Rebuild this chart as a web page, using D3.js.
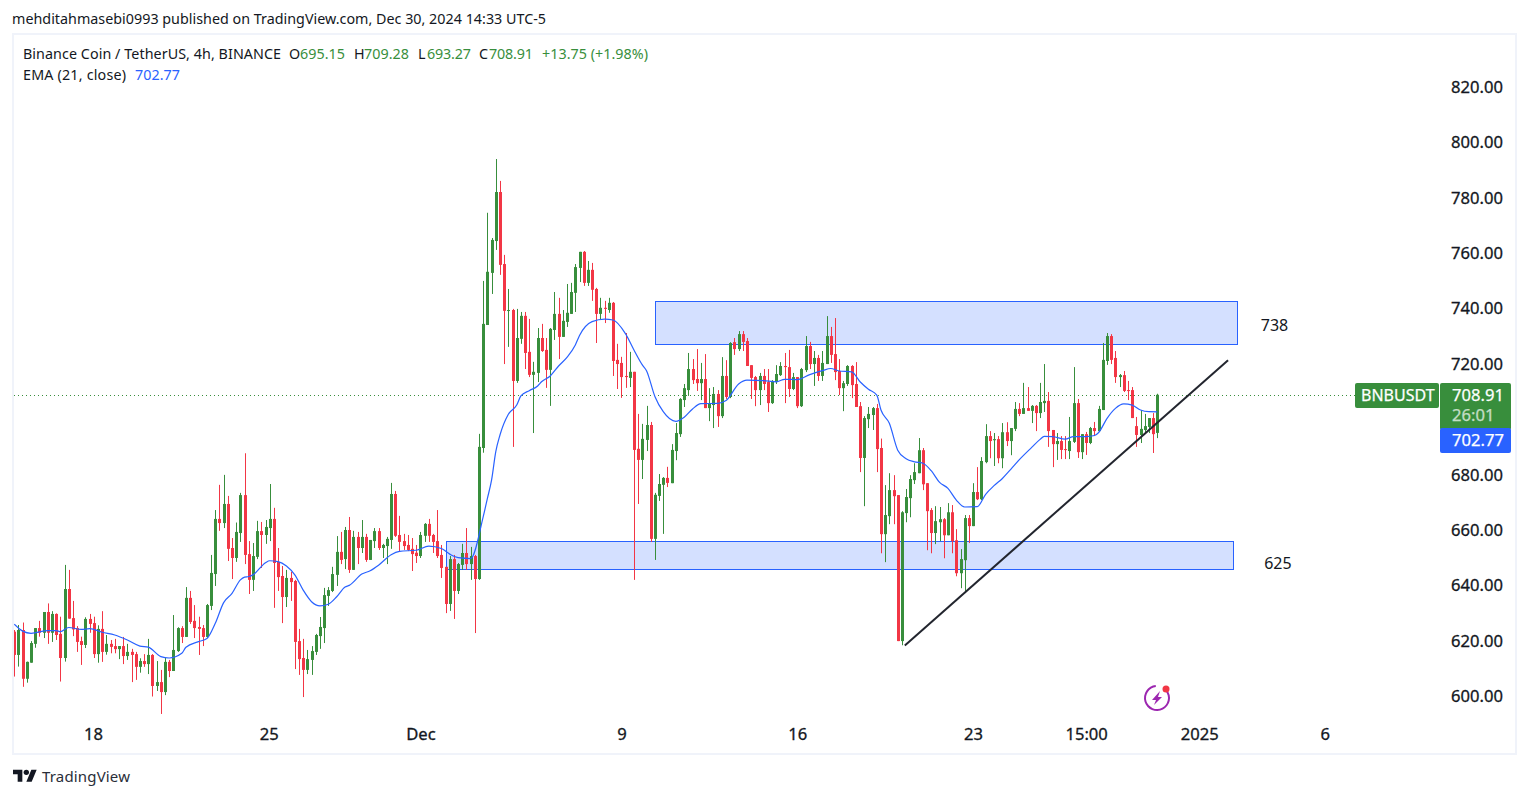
<!DOCTYPE html>
<html>
<head>
<meta charset="utf-8">
<title>BNBUSDT 4h</title>
<script src="https://cdnjs.cloudflare.com/ajax/libs/d3/7.8.5/d3.min.js"></script>
<style>
    body { margin: 0; background: #ffffff; }
    svg { display: block; }
    text { font-family: "Noto Sans", sans-serif; fill: #131722; }
</style>
</head>
<body>
<svg id="chart" width="1529" height="798"></svg>
<script>
//4h candles, oldest first
const opens = [
    623.4,615.0,624.0,606.4,612.2,619.0,624.7,623.0,630.5,623.0,
    629.8,622.6,613.9,638.8,628.3,624.7,620.0,618.6,628.0,626.5,
    615.3,624.4,616.1,619.0,618.2,617.1,618.2,614.6,616.1,615.3,
    610.7,612.8,611.7,615.0,603.8,605.2,601.6,612.5,609.2,616.4,
    624.7,621.5,635.6,627.3,625.1,624.7,621.5,632.7,644.2,664.1,
    662.6,669.5,653.6,650.0,659.0,672.7,651.4,642.1,650.4,659.7,
    658.3,660.8,664.1,648.6,643.5,635.9,642.8,641.7,620.0,613.9,
    609.6,613.2,616.1,621.8,624.7,636.3,638.1,643.9,652.2,649.6,
    660.1,645.7,657.6,653.6,657.6,649.3,656.1,659.7,653.6,654.3,
    656.5,673.1,658.3,656.1,654.7,653.3,651.9,650.7,658.0,662.3,
    658.3,656.1,651.1,646.8,633.4,649.6,638.1,647.5,651.8,647.8,
    650.7,642.4,689.7,734.1,752.9,764.4,782.1,756.1,739.2,739.5,
    713.9,729.1,737.4,724.4,716.1,716.8,729.4,725.1,717.9,732.3,
    738.1,729.8,735.2,738.1,745.7,754.7,760.5,749.3,754.0,747.1,
    738.1,740.3,739.5,742.1,721.5,720.4,715.7,715.0,717.2,689.4,
    685.4,692.6,698.0,656.9,672.4,676.4,678.9,677.0,688.6,694.7,
    707.0,710.6,718.2,714.6,713.1,714.6,704.1,705.2,709.2,701.2,
    715.7,708.1,727.9,725.4,730.8,728.3,719.6,715.3,710.6,715.7,
    713.5,705.9,713.5,716.0,719.3,718.9,711.0,715.3,704.8,717.8,
    726.5,720.0,722.2,715.7,720.0,730.1,723.6,717.5,711.3,712.8,
    719.3,712.8,704.8,686.1,700.1,701.6,704.1,689.7,658.6,665.1,
    674.5,672.7,620.0,666.2,671.6,678.1,680.6,688.9,677.0,667.3,
    659.0,662.9,664.0,658.2,666.5,656.4,644.5,649.2,664.4,661.5,
    673.8,671.2,684.6,694.0,692.5,692.9,686.0,695.4,692.2,696.6,
    703.8,702.0,704.1,703.1,704.9,702.3,705.9,706.7,696.2,691.1,
    692.2,689.3,688.6,691.9,705.9,688.2,694.7,691.5,696.9,695.8,
    703.4,721.1,730.1,722.2,715.3,716.0,710.6,710.6,697.6,694.4,
    696.2,697.3,700.5,695.15
];
const highs = [
    624.0,625.8,626.7,612.6,620.0,624.7,627.3,630.5,633.6,630.8,
    630.0,628.8,647.5,645.7,634.5,625.4,621.6,628.6,629.8,628.8,
    625.7,630.8,622.2,620.4,620.8,618.2,621.5,619.0,617.2,616.1,
    613.8,615.3,620.8,615.3,612.8,609.6,613.9,613.2,629.4,625.0,
    625.4,639.5,638.1,633.0,628.8,625.8,633.4,651.1,667.3,676.4,
    680.0,672.4,657.2,662.8,673.5,687.8,656.1,655.4,663.4,663.0,
    663.7,676.7,668.1,653.6,647.1,645.7,645.0,642.1,624.4,620.8,
    616.8,618.2,622.6,628.7,639.2,639.5,646.8,657.9,659.4,661.2,
    664.8,659.8,659.4,663.7,658.7,656.5,660.8,660.8,655.1,657.6,
    677.1,674.2,665.2,658.7,658.3,657.2,654.7,659.4,662.6,664.1,
    658.7,667.3,654.7,646.8,650.7,651.1,648.2,655.1,660.8,654.0,
    651.1,694.8,750.0,774.6,765.5,794.0,786.1,759.4,747.1,739.9,
    739.9,738.8,738.8,736.3,720.8,733.0,734.5,729.4,733.0,746.0,
    743.9,739.5,748.9,749.3,756.1,760.5,760.8,757.2,756.5,747.5,
    743.9,742.8,743.9,742.4,727.3,722.6,731.2,724.4,717.2,702.0,
    698.4,704.9,699.1,673.5,680.3,679.2,682.9,691.1,698.7,707.7,
    712.8,724.0,721.8,725.4,720.4,723.6,711.3,711.7,710.6,722.5,
    721.4,727.9,729.4,731.9,731.9,729.4,719.6,715.7,716.8,718.2,
    718.2,714.2,719.6,720.7,724.0,725.1,716.8,715.3,718.6,730.1,
    728.0,724.7,723.3,724.7,737.3,733.4,736.6,721.8,713.9,719.6,
    719.6,720.7,706.3,701.2,704.5,704.5,705.6,693.1,676.3,680.6,
    679.9,672.7,666.9,674.9,679.9,684.2,693.3,689.7,677.0,668.0,
    668.7,668.4,664.4,669.8,669.1,660.4,653.2,665.5,665.5,677.0,
    682.8,686.4,698.3,695.8,695.1,694.0,698.7,699.0,696.9,706.3,
    705.9,713.2,711.7,705.2,705.2,713.2,720.0,709.9,696.2,695.1,
    694.0,694.0,700.9,718.9,707.4,694.7,695.5,697.3,699.1,704.9,
    727.6,731.2,730.8,724.7,716.4,717.5,713.9,711.7,700.9,703.4,
    702.0,700.5,702.3,709.28
];
const lows = [
    607.2,610.8,603.5,605.0,612.2,617.6,621.6,621.1,619.0,619.7,
    620.4,605.4,612.6,628.1,621.8,616.1,611.4,617.5,623.0,613.9,
    612.2,612.5,615.1,615.6,615.6,613.5,611.7,613.2,605.2,606.0,
    608.6,610.7,608.1,600.0,602.0,593.7,600.5,607.0,609.2,616.1,
    619.3,621.5,626.2,621.1,615.0,618.2,621.1,631.2,639.9,659.8,
    660.8,648.9,642.4,648.6,655.8,647.8,637.0,638.1,649.6,646.4,
    655.1,656.1,632.0,638.1,626.5,632.3,634.5,609.9,607.8,599.8,
    608.1,607.8,615.0,617.2,619.3,632.7,637.7,639.9,647.8,646.0,
    644.6,645.7,647.8,651.8,648.6,649.3,653.6,652.9,650.0,647.8,
    653.3,657.6,652.5,652.9,652.5,645.3,648.2,650.0,655.8,655.8,
    651.8,650.0,642.8,630.1,630.9,628.0,637.0,645.7,645.7,642.1,
    622.9,642.1,688.0,734.1,745.3,761.2,752.2,720.0,726.2,690.1,
    713.2,727.3,718.2,715.3,695.1,713.5,724.4,711.4,704.9,728.7,
    721.8,729.8,733.4,738.1,738.8,749.6,748.2,748.2,742.8,727.6,
    736.0,734.8,738.5,715.7,711.0,707.8,711.4,711.7,642.1,669.5,
    678.5,688.6,655.8,649.3,670.6,658.7,675.6,677.0,685.3,693.7,
    704.5,708.5,712.8,710.3,707.0,704.1,699.4,696.9,697.3,700.5,
    707.4,707.7,723.3,724.7,724.7,719.3,707.4,704.8,705.2,710.6,
    702.7,705.6,712.8,715.7,705.9,708.1,710.6,704.1,704.5,717.1,
    718.2,712.1,713.9,713.9,720.0,720.4,714.2,708.8,703.0,712.1,
    707.7,704.5,681.0,668.7,696.9,696.2,681.0,651.7,648.5,662.2,
    662.2,620.0,618.5,662.9,664.7,676.7,680.6,674.5,652.8,651.7,
    655.0,656.1,649.9,658.2,651.7,643.4,639.1,637.7,655.4,661.5,
    670.9,670.9,684.2,686.0,683.2,684.2,682.4,690.4,687.1,695.8,
    701.2,702.0,703.1,698.7,695.8,700.5,702.7,690.1,682.8,685.4,
    685.7,685.7,685.7,691.5,686.1,685.7,687.2,691.1,694.0,695.8,
    703.4,719.7,720.0,713.2,711.7,709.9,707.0,700.5,690.1,691.5,
    695.1,695.1,687.9,693.27
];
const closes = [
    615.0,624.0,606.4,612.5,619.3,624.7,623.0,630.5,623.0,629.8,
    622.2,613.9,638.8,628.1,624.2,619.7,618.6,628.0,626.2,615.3,
    624.4,616.1,619.0,617.9,617.1,618.2,614.6,616.1,615.0,610.7,
    612.8,611.7,615.0,603.8,605.2,601.6,612.5,609.2,616.8,624.7,
    621.5,635.6,626.9,624.7,624.4,621.5,633.0,644.6,664.1,662.6,
    669.5,653.3,650.0,659.4,672.7,651.1,642.1,650.7,659.7,658.3,
    661.2,664.1,648.2,643.1,635.9,642.8,641.3,619.7,613.5,609.6,
    613.5,616.4,622.2,625.1,636.6,638.4,644.2,652.2,649.3,660.1,
    645.7,657.6,653.6,657.6,649.3,656.5,659.7,653.6,654.7,656.9,
    673.1,658.0,655.8,654.3,652.9,651.4,650.7,658.3,662.3,658.0,
    655.8,650.7,646.4,633.4,649.6,638.1,647.8,651.8,647.8,650.7,
    642.4,690.1,734.5,753.3,764.8,782.1,755.8,739.2,739.5,713.9,
    729.4,737.4,724.0,716.1,717.2,729.4,724.7,717.9,732.7,738.1,
    729.8,735.6,738.5,746.0,755.0,760.5,749.3,754.0,746.8,738.1,
    740.3,739.9,742.1,721.1,720.0,715.3,715.3,717.2,689.0,685.4,
    693.0,698.0,656.9,672.8,676.7,678.9,677.1,689.0,695.1,707.4,
    711.3,718.2,714.2,713.1,714.6,704.1,705.6,709.2,701.2,715.7,
    708.1,727.6,725.4,730.8,728.0,719.3,715.0,710.6,715.7,712.8,
    705.9,713.9,716.4,719.3,718.9,711.0,715.3,704.8,718.2,726.5,
    720.0,722.2,715.7,720.4,730.1,723.3,717.1,711.3,713.1,719.3,
    712.4,704.5,686.1,700.5,702.0,704.1,689.3,658.6,665.5,674.5,
    672.3,620.0,666.5,672.0,678.5,681.0,688.9,676.6,666.9,659.0,
    663.3,664.0,658.2,666.5,656.1,644.5,649.6,664.4,661.5,673.8,
    671.2,685.0,694.0,692.2,692.9,686.0,695.4,692.2,696.9,703.8,
    702.0,704.1,703.1,704.9,702.3,706.3,706.7,695.8,691.1,692.2,
    689.0,689.0,692.2,705.9,688.2,694.7,691.5,696.9,695.8,703.8,
    721.5,730.1,721.5,715.3,716.0,710.3,710.3,700.5,694.4,696.6,
    697.6,700.5,694.7,708.91
];

//EMA 21 read at these bars
const emaBars = [
    0,2,4,8,10,11,13,16,18,21,24,27,30,32,35,37,40,41,44,46,48,50,52,54,55,56,
    57,60,61,63,65,67,69,71,73,75,77,79,80,83,85,87,90,92,96,99,102,104,106,109,
    112,113,114,115,116,118,120,121,123,125,126,128,130,132,134,135,138,141,143,146,148,150,151,153,155,
    158,160,162,164,168,170,173,175,179,182,184,187,190,193,195,197,200,202,204,206,207,209,
    211,213,215,217,219,221,223,225,227,230,232,234,236,238,240,243,245,246,248,251,253,256,258,259,261,263,265,267,269,271,273
];
const emaValues = [
    626.1,623.6,622.8,623.8,623.8,623.4,624.9,624.2,624.5,623.2,622.2,620.4,618.2,617.8,614.4,613.9,615.6,617.8,619.8,620.9,626.4,633.9,637.2,642.1,643.1,643.3,
    643.9,648.3,649.0,648.7,647.1,643.9,638.4,634.2,632.7,633.3,636.0,639.5,640.1,644.2,645.4,647.4,651.2,652.4,652.8,654.3,653.4,651.4,650.1,649.8,
    664.9,671.5,678.2,688.4,694.4,701.9,705.2,708.5,710.4,712.1,713.7,715.7,719.3,722.4,726.9,730.3,735.3,736.2,735.9,730.9,725.1,719.7,717.6,708.3,702.8,
    699.3,700.8,703.8,705.7,705.8,706.8,712.8,714.2,714.0,713.6,714.5,714.4,716.2,717.6,718.4,717.5,717.2,713.6,710.9,708.8,703.4,698.6,
    688.9,685.8,684.7,684.2,681.5,677.3,675.1,670.9,668.4,668.5,673.0,676.1,678.7,682.0,685.4,689.9,692.8,693.9,693.8,692.9,693.8,693.8,694.2,695.3,700.4,704.0,705.6,705.2,703.4,702.8,702.77
];

const priceTicks = [600, 620, 640, 660, 680, 720, 740, 760, 780, 800, 820];
const timeLabels = ["18", "25", "Dec", "9", "16", "23", "15:00", "2025", "6"];
const timeBars = [18.8, 60.8, 97, 145, 187, 229, 256, 283, 313];

//Drawings on the chart
const zoneFromBars = [153, 103];
const zoneToBars = [292, 291];
const zoneTops = [742.7, 656.0];
const zoneBottoms = [727.0, 646.0];
const zoneLabels = ["738", "625"];
const zoneLabelBars = [301, 301.8];
const zoneLabelPrices = [734.0, 648.2];
const trendBars = [212.7, 289.9];
const trendPrices = [618.4, 721.4];

const upColor = "#388e3c";
const downColor = "#f23645";
const blue = "#2962ff";
const borderColor = "#f0f3fa";
const dark = "#131722";

const svg = d3.select("#chart");

//Scales, pixel ranges measured on the reference
const x = d3.scaleLinear().domain([0, closes.length - 1]).range([14.3, 1157.3]);
const y = d3.scaleLinear().domain([600, 820]).range([696.5, 87]);

//Frame round the chart
svg.append("rect")
    .attr("x", 13).attr("y", 34)
    .attr("width", 1503).attr("height", 720)
    .attr("fill", "none")
    .attr("stroke", borderColor)
    .attr("stroke-width", 2);

svg.append("clipPath").attr("id", "plot")
    .append("rect")
    .attr("x", 14).attr("y", 35)
    .attr("width", 1501).attr("height", 685);

const plot = svg.append("g").attr("clip-path", "url(#plot)");

//Blue zones, under the candles
d3.range(zoneTops.length).forEach(i => {
    plot.append("rect")
        .attr("x", Math.round(x(zoneFromBars[i])) + 0.5)
        .attr("y", Math.round(y(zoneTops[i])) + 0.5)
        .attr("width", Math.round(x(zoneToBars[i]) - x(zoneFromBars[i])))
        .attr("height", Math.round(y(zoneBottoms[i]) - y(zoneTops[i])))
        .attr("fill", blue)
        .attr("fill-opacity", 0.2)
        .attr("stroke", blue)
        .attr("stroke-width", 1);

    svg.append("text")
        .attr("x", x(zoneLabelBars[i]))
        .attr("y", y(zoneLabelPrices[i]) + 6)
        .attr("text-anchor", "middle")
        .style("font-size", "16px")
        .text(zoneLabels[i]);
});

//Last price dotted line
plot.append("line")
    .attr("x1", 14).attr("x2", 1355)
    .attr("y1", Math.round(y(closes[closes.length - 1])) + 0.5)
    .attr("y2", Math.round(y(closes[closes.length - 1])) + 0.5)
    .attr("stroke", upColor)
    .attr("stroke-width", 1)
    .attr("stroke-dasharray", "1 3");

//Candles
const candles = plot.append("g").selectAll("g")
    .data(closes)
    .enter()
    .append("g")
    .attr("fill", (c, i) => c >= opens[i] ? upColor : downColor);

candles.append("rect")
    .attr("x", (c, i) => Math.round(x(i)))
    .attr("width", 1)
    .attr("y", (c, i) => y(highs[i]))
    .attr("height", (c, i) => y(lows[i]) - y(highs[i]));

candles.append("rect")
    .attr("x", (c, i) => Math.round(x(i)) - 1)
    .attr("width", 3)
    .attr("y", (c, i) => y(Math.max(c, opens[i])))
    .attr("height", (c, i) => Math.max(1, Math.abs(y(c) - y(opens[i]))));

//EMA line
const emaLine = d3.line()
    .x((v, i) => x(emaBars[i]))
    .y(v => y(v))
    .curve(d3.curveMonotoneX);

plot.append("path")
    .attr("d", emaLine(emaValues))
    .attr("fill", "none")
    .attr("stroke", blue)
    .attr("stroke-width", 1.2);

//Trend line
plot.append("line")
    .attr("x1", x(trendBars[0])).attr("y1", y(trendPrices[0]))
    .attr("x2", x(trendBars[1])).attr("y2", y(trendPrices[1]))
    .attr("stroke", "#22252e")
    .attr("stroke-width", 2);

//Axes
const yAxis = d3.axisRight(y)
    .tickValues(priceTicks)
    .tickSize(0)
    .tickPadding(0)
    .tickFormat(d3.format(".2f"));

const yGroup = svg.append("g")
    .attr("transform", "translate(1451,0)")
    .call(yAxis);
yGroup.select(".domain").remove();
yGroup.selectAll("text")
    .style("font-size", "16.6px")
    .style("stroke", dark)
    .style("stroke-width", 0.3)
    .attr("fill", null);

const xAxis = d3.axisBottom(x)
    .tickValues(timeBars)
    .tickSize(0)
    .tickPadding(0)
    .tickFormat((d, i) => timeLabels[i]);

const xGroup = svg.append("g")
    .attr("transform", "translate(0,728)")
    .call(xAxis);
xGroup.select(".domain").remove();
xGroup.selectAll("text")
    .style("font-size", "16.6px")
    .style("stroke", dark)
    .style("stroke-width", 0.3)
    .attr("fill", null);

//Price tags on the right
svg.append("rect").attr("x", 1355).attr("y", 383).attr("width", 84).attr("height", 25)
    .attr("rx", 2).attr("fill", upColor);
svg.append("rect").attr("x", 1440).attr("y", 383).attr("width", 71).attr("height", 47)
    .attr("rx", 2).attr("fill", upColor);
svg.append("rect").attr("x", 1440).attr("y", 428).attr("width", 71).attr("height", 25)
    .attr("rx", 2).attr("fill", blue);

function tag(label, tx, ty, size, opacity) {
    svg.append("text")
        .attr("x", tx).attr("y", ty)
        .style("fill", "#ffffff")
        .style("stroke", "#ffffff")
        .style("stroke-width", 0.25)
        .style("font-size", size + "px")
        .style("opacity", opacity)
        .text(label);
}
tag("BNBUSDT", 1361, 401, 16, 1);
tag("708.91", 1452, 401, 16.6, 1);
tag("26:01", 1452, 421, 16.6, 0.7);
tag("702.77", 1452, 446, 16.6, 1);

//Header and legend, split up by colour. Fourth item is the width seen on the reference
function label(pieces, ty) {
    pieces.forEach(p => {
        let t = svg.append("text")
            .attr("x", p[0]).attr("y", ty)
            .style("font-size", "14.3px")
            .style("fill", p[2])
            .text(p[1]);
        if (p[3]) {
            t.attr("textLength", p[3]);
        }
    });
}
label([[12, "mehditahmasebi0993 published on TradingView.com, Dec 30, 2024 14:33 UTC-5", dark, 534]], 24);
label([
    [23, "Binance Coin / TetherUS, 4h, BINANCE", dark, 258],
    [289, "O", dark], [300, "695.15", upColor, 45],
    [354, "H", dark], [364, "709.28", upColor, 45],
    [418, "L", dark], [427, "693.27", upColor, 44],
    [479, "C", dark], [489, "708.91", upColor, 44],
    [542, "+13.75 (+1.98%)", upColor, 106]
], 59);
label([[23, "EMA (21, close)", dark, 103], [135, "702.77", blue, 45]], 80);

//TradingView logo and name
const logo = svg.append("g").attr("transform", "translate(13,767) scale(0.667)").attr("fill", dark);
logo.append("path").attr("d", "M14 22H7V11H0V4h14v18zM28 22h-8l7.5-18h8L28 22z");
logo.append("circle").attr("cx", 20).attr("cy", 8).attr("r", 4);
svg.append("text").attr("x", 42).attr("y", 782)
    .attr("textLength", 88)
    .style("font-size", "15px")
    .style("fill", "#2a2e39")
    .text("TradingView");

//Purple bolt badge under the last candles
const badge = svg.append("g").attr("transform", "translate(1157,698)");
badge.append("path")
    .attr("d", d3.arc().innerRadius(11).outerRadius(13).startAngle(0.9).endAngle(2 * Math.PI - 0.1)())
    .attr("fill", "#9c27b0");
badge.append("path")
    .attr("d", "M3 -7 L-5 2 L-1 2 L-3 7 L5 -1 L1 -1 Z")
    .attr("fill", "#9c27b0");
badge.append("circle").attr("cx", 9).attr("cy", -9).attr("r", 3.5).attr("fill", "#f23645");
</script>
</body>
</html>
